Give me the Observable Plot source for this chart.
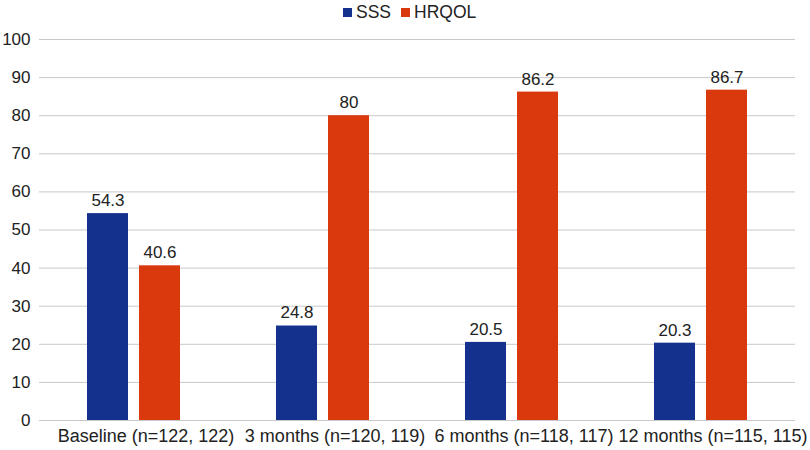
<!DOCTYPE html>
<html>
<head>
<meta charset="utf-8">
<script src="https://cdn.jsdelivr.net/npm/d3@7"></script>
<script src="https://cdn.jsdelivr.net/npm/@observablehq/plot@0.6"></script>
<style>
  html, body { margin: 0; padding: 0; background: #fff; }
  #wrap { width: 810px; font-family: "Liberation Sans", Arial, sans-serif; }
  #legend { position: relative; height: 24px; font-size: 17.5px; color: #222; }
  .item { position: absolute; top: 3px; display: flex; align-items: center; line-height: 18px; }
  .sw { width: 9px; height: 9px; margin-right: 4px; }
</style>
</head>
<body>
<div id="wrap">
  <div id="legend"></div>
  <div id="chart"></div>
</div>
<script>
const groups = ["Baseline (n=122, 122)", "3 months (n=120, 119)", "6 months (n=118, 117)", "12 months (n=115, 115)"];
const series = ["SSS", "HRQOL"];
const sssValues = [54.3, 24.8, 20.5, 20.3];
const hrqolValues = [40.6, 80, 86.2, 86.7];
const yTicks = [0, 10, 20, 30, 40, 50, 60, 70, 80, 90, 100];
const colors = ["#14318e", "#d9390c"];

const data = [];
groups.forEach((g, i) => {
  data.push({group: g, series: "SSS", value: sssValues[i]});
  data.push({group: g, series: "HRQOL", value: hrqolValues[i]});
});

// legend
const legend = document.getElementById("legend");
const legendX = [343, 401];
series.forEach((s, i) => {
  const d = document.createElement("div");
  d.className = "item";
  d.style.left = legendX[i] + "px";
  d.innerHTML = `<span class="sw" style="background:${colors[i]}"></span><span>${s}</span>`;
  legend.appendChild(d);
});

const chart = Plot.plot({
  width: 810,
  height: 426,
  marginLeft: 38,
  marginRight: 15,
  marginTop: 15,
  marginBottom: 30,
  style: {fontFamily: "'Liberation Sans', Arial, sans-serif", fontSize: "17px", color: "#222", background: "#fff"},
  fx: {domain: groups, padding: 0, label: null},
  x: {domain: series, axis: null, paddingInner: 0.2075, paddingOuter: 0.889},
  y: {domain: [0, 100], label: null},
  color: {domain: series, range: colors},
  marks: [
    Plot.gridY(yTicks, {stroke: "#c8c8c8", strokeOpacity: 1, strokeWidth: 1}),
    Plot.axisY(yTicks, {tickSize: 0, tickPadding: 9, fontSize: 17, label: null}),
    Plot.axisFx({anchor: "bottom", tickSize: 0, tickPadding: 9, dx: 12, fontSize: 18, label: null}),
    Plot.barY(data, {fx: "group", x: "series", y: "value", fill: "series"}),
    Plot.text(data, {fx: "group", x: "series", y: "value", text: d => String(d.value), dy: -13, fontSize: 17, fill: "#222"})
  ]
});
document.getElementById("chart").appendChild(chart);
</script>
</body>
</html>
